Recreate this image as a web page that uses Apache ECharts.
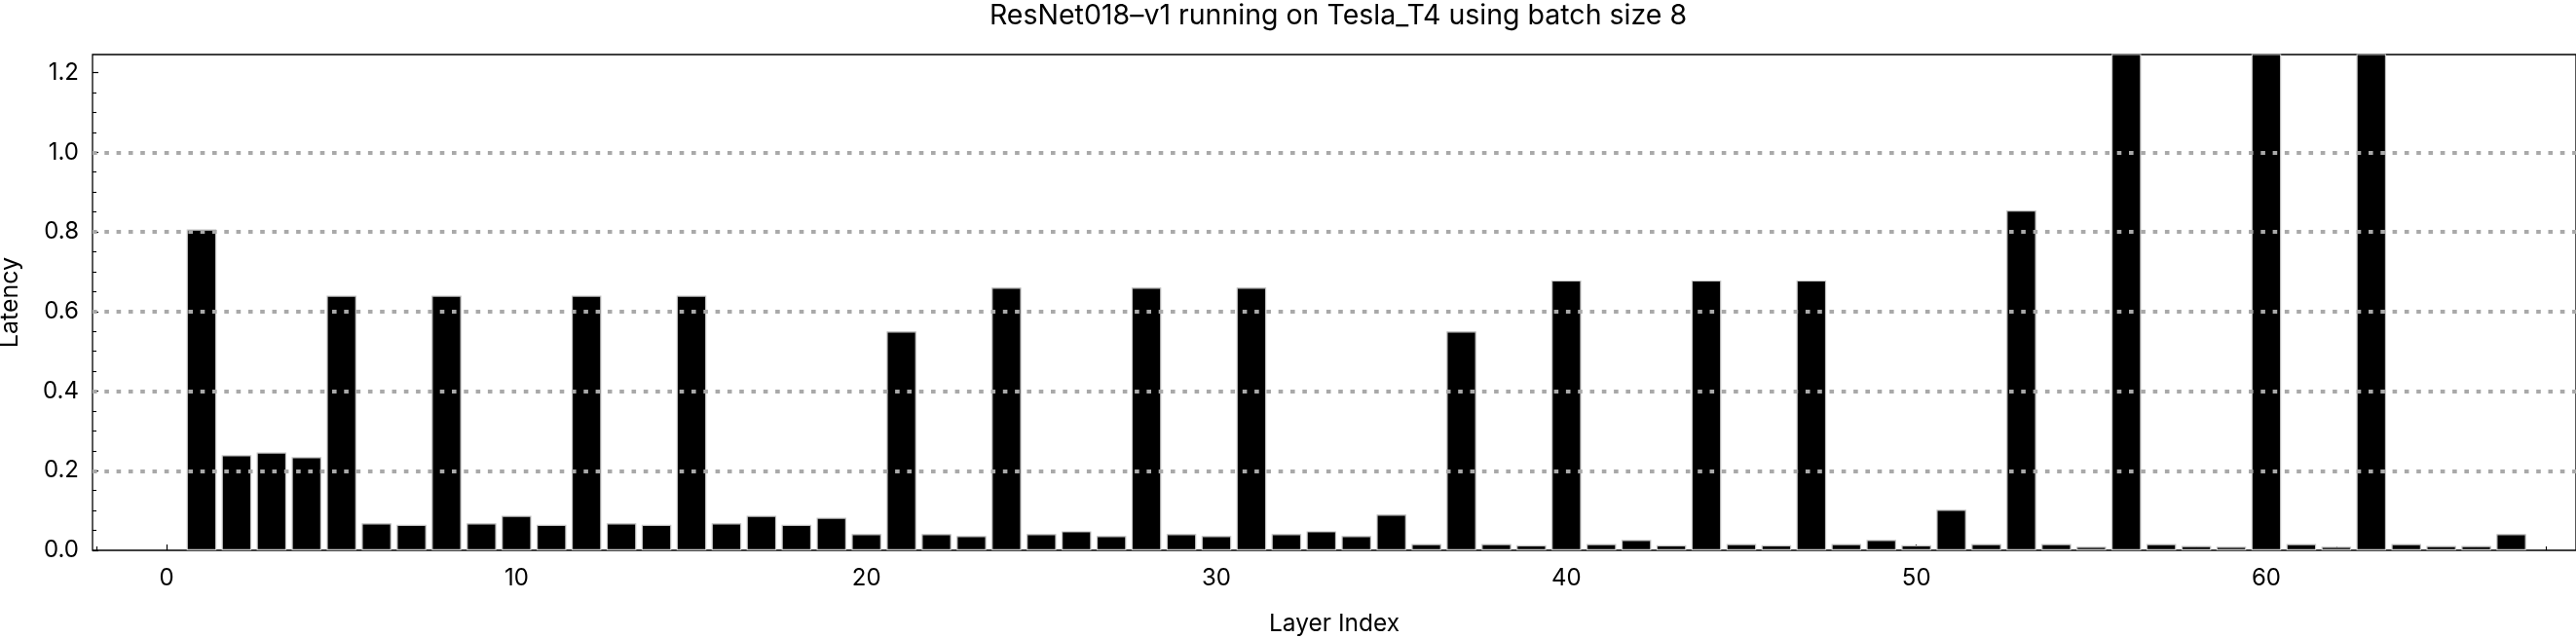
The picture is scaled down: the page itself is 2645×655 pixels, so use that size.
<!DOCTYPE html>
<html>
<head>
<meta charset="utf-8">
<script src="https://cdn.jsdelivr.net/npm/echarts@6/dist/echarts.min.js"></script>
<style>
html,body{margin:0;padding:0;background:#fff;}
#chart{width:2645px;height:655px;}
</style>
</head>
<body>
<div id="chart"></div>
<script>
const titleText = 'ResNet018\u2013v1 running on Tesla_T4 using batch size 8';
const layerIndex = [1,2,3,4,5,6,7,8,9,10,11,12,13,14,15,16,17,18,19,20,21,22,23,24,25,26,27,28,29,30,31,32,33,34,35,36,37,38,39,40,41,42,43,44,45,46,47,48,49,50,51,52,53,54,55,56,57,58,59,60,61,62,63,64,65,66,67];
const latency = [
  0.806, 0.239, 0.246, 0.234, 0.640, 0.068, 0.064, 0.640, 0.068, 0.087,
  0.064, 0.640, 0.068, 0.064, 0.640, 0.068, 0.087, 0.064, 0.082, 0.041,
  0.550, 0.041, 0.036, 0.660, 0.041, 0.048, 0.036, 0.660, 0.041, 0.036,
  0.660, 0.041, 0.048, 0.036, 0.090, 0.016, 0.550, 0.016, 0.013, 0.678,
  0.016, 0.026, 0.013, 0.678, 0.016, 0.013, 0.678, 0.016, 0.026, 0.013,
  0.102, 0.016, 0.854, 0.016, 0.009, 1.400, 0.016, 0.011, 0.009, 1.400,
  0.016, 0.009, 1.400, 0.016, 0.011, 0.011, 0.041
];
const xMajorTicks = [0,10,20,30,40,50,60];
const xMinorTicks = [-2,2,4,6,8,12,14,16,18,22,24,26,28,32,34,36,38,42,44,46,48,52,54,56,58,62,64,66,68];
const yMajorTicks = [0,0.2,0.4,0.6,0.8,1.0,1.2];
const yMinorTicks = [0.05,0.1,0.15,0.25,0.3,0.35,0.45,0.5,0.55,0.65,0.7,0.75,0.85,0.9,0.95,1.05,1.1,1.15];
const gridValues = [0.2,0.4,0.6,0.8,1.0];

const X_MIN = -2.115, X_MAX = 68.85, Y_MIN = 0, Y_MAX = 1.2454;
const FONT = 'Inter';

const chart = echarts.init(document.getElementById('chart'), null, {renderer:'canvas'});
const baseX = {type:'value', min:X_MIN, max:X_MAX, position:'bottom',
  axisLine:{show:false, onZero:false}, splitLine:{show:false}};
const baseY = {type:'value', min:Y_MIN, max:Y_MAX, position:'left',
  axisLine:{show:false, onZero:false}, splitLine:{show:false}};

chart.setOption({
  animation:false,
  backgroundColor:'#fff',
  title:{text:titleText, left:1369, textAlign:'center', top:-3,
    textStyle:{fontFamily:FONT, fontSize:28.5, fontWeight:'normal', color:'#000'}},
  grid:{left:95, right:0, top:56, bottom:90, show:true, borderColor:'#000', borderWidth:1.3,
    backgroundColor:'transparent', containLabel:false, outerBoundsMode:'none'},
  xAxis:[
    Object.assign({}, baseX, {
      name:'Layer Index', nameLocation:'middle', nameGap:63,
      nameTextStyle:{fontFamily:FONT, fontSize:24.5, color:'#000'},
      axisTick:{show:true, inside:true, length:6, customValues:xMajorTicks, lineStyle:{color:'#000', width:1.2}},
      axisLabel:{show:true, customValues:xMajorTicks, margin:17, fontFamily:FONT, fontSize:24, color:'#000'}
    }),
    Object.assign({}, baseX, {
      axisTick:{show:true, inside:true, length:4, customValues:xMinorTicks, lineStyle:{color:'#000', width:1.1}},
      axisLabel:{show:false}
    })
  ],
  yAxis:[
    Object.assign({}, baseY, {
      name:'Latency', nameLocation:'middle', nameGap:72, nameRotate:90,
      nameTextStyle:{fontFamily:FONT, fontSize:25, color:'#000'},
      axisTick:{show:true, inside:true, length:6, customValues:yMajorTicks, lineStyle:{color:'#000', width:1.2}},
      axisLabel:{show:true, customValues:yMajorTicks, margin:14, fontFamily:FONT, fontSize:24, color:'#000',
        formatter:(v)=>v.toFixed(1)}
    }),
    Object.assign({}, baseY, {
      axisTick:{show:true, inside:true, length:4, customValues:yMinorTicks, lineStyle:{color:'#000', width:1.1}},
      axisLabel:{show:false}
    })
  ],
  series:[
    {
      type:'line', data:[], z:1, silent:true,
      markLine:{silent:true, symbol:['none','none'], label:{show:false},
        lineStyle:{color:'#a9a9a9', width:4.2, type:[4.6,7.7], cap:'butt'},
        data: gridValues.map(v=>({yAxis:v}))}
    },
    {
      type:'bar', z:2, xAxisIndex:0, yAxisIndex:0, barWidth:30.5, clip:true,
      itemStyle:{color:'#000', borderColor:'#c4c4c4', borderWidth:1.2},
      data: layerIndex.map((x,i)=>[x, latency[i]])
    }
  ]
});
</script>
</body>
</html>
